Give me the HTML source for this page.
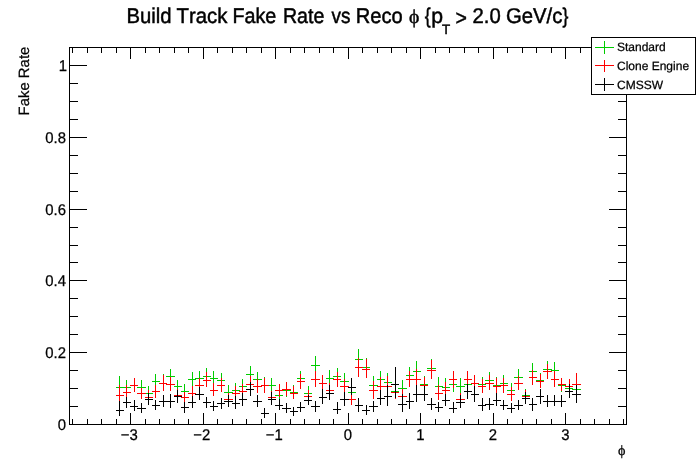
<!DOCTYPE html>
<html><head><meta charset="utf-8"><title>Build Track Fake Rate vs Reco phi</title>
<style>
html,body{margin:0;padding:0;background:#fff;}
body{width:696px;height:472px;overflow:hidden;font-family:"Liberation Sans",sans-serif;}
svg{display:block;font-family:"Liberation Sans",sans-serif;font-kerning:none;text-rendering:geometricPrecision;}
.ce{shape-rendering:crispEdges;}
.tx{filter:grayscale(1);}
</style></head><body>
<svg width="696" height="472" viewBox="0 0 696 472">
<rect width="696" height="472" fill="#fff"/>
<g class="ce" fill="none">
<rect x="69.5" y="47.5" width="557.0" height="377.0" fill="none" stroke="#000"/>
<path d="M72.5 424.5v-6M72.5 47.5v5M87.5 424.5v-6M87.5 47.5v5M101.5 424.5v-6M101.5 47.5v5M116.5 424.5v-6M116.5 47.5v5M130.5 424.5v-12M130.5 47.5v11M145.5 424.5v-6M145.5 47.5v5M159.5 424.5v-6M159.5 47.5v5M174.5 424.5v-6M174.5 47.5v5M188.5 424.5v-6M188.5 47.5v5M203.5 424.5v-12M203.5 47.5v11M217.5 424.5v-6M217.5 47.5v5M232.5 424.5v-6M232.5 47.5v5M246.5 424.5v-6M246.5 47.5v5M261.5 424.5v-6M261.5 47.5v5M275.5 424.5v-12M275.5 47.5v11M290.5 424.5v-6M290.5 47.5v5M304.5 424.5v-6M304.5 47.5v5M319.5 424.5v-6M319.5 47.5v5M333.5 424.5v-6M333.5 47.5v5M348.5 424.5v-12M348.5 47.5v11M362.5 424.5v-6M362.5 47.5v5M377.5 424.5v-6M377.5 47.5v5M391.5 424.5v-6M391.5 47.5v5M406.5 424.5v-6M406.5 47.5v5M420.5 424.5v-12M420.5 47.5v11M435.5 424.5v-6M435.5 47.5v5M449.5 424.5v-6M449.5 47.5v5M464.5 424.5v-6M464.5 47.5v5M478.5 424.5v-6M478.5 47.5v5M493.5 424.5v-12M493.5 47.5v11M507.5 424.5v-6M507.5 47.5v5M522.5 424.5v-6M522.5 47.5v5M536.5 424.5v-6M536.5 47.5v5M551.5 424.5v-6M551.5 47.5v5M565.5 424.5v-12M565.5 47.5v11M580.5 424.5v-6M580.5 47.5v5M594.5 424.5v-6M594.5 47.5v5M609.5 424.5v-6M609.5 47.5v5M623.5 424.5v-6M623.5 47.5v5M69.5 424.5h17M626.5 424.5h-18M69.5 406.5h8M626.5 406.5h-9M69.5 388.5h8M626.5 388.5h-9M69.5 370.5h8M626.5 370.5h-9M69.5 352.5h17M626.5 352.5h-18M69.5 334.5h8M626.5 334.5h-9M69.5 316.5h8M626.5 316.5h-9M69.5 298.5h8M626.5 298.5h-9M69.5 280.5h17M626.5 280.5h-18M69.5 262.5h8M626.5 262.5h-9M69.5 245.5h8M626.5 245.5h-9M69.5 227.5h8M626.5 227.5h-9M69.5 209.5h17M626.5 209.5h-18M69.5 191.5h8M626.5 191.5h-9M69.5 173.5h8M626.5 173.5h-9M69.5 155.5h8M626.5 155.5h-9M69.5 137.5h17M626.5 137.5h-18M69.5 119.5h8M626.5 119.5h-9M69.5 101.5h8M626.5 101.5h-9M69.5 83.5h8M626.5 83.5h-9M69.5 65.5h17M626.5 65.5h-18" stroke="#000" fill="none"/>
</g>
<g class="ce" fill="none" stroke-width="1">
<g stroke="#00cc00">
<path d="M119.5 376V396M116 387.5H124"/>
<path d="M126.5 380V394M123 387.5H131"/>
<path d="M134.5 378V392M130 385.5H138"/>
<path d="M141.5 380V393M137 387.5H146"/>
<path d="M148.5 386V399M145 393.5H153"/>
<path d="M155.5 374V387M152 381.5H160"/>
<path d="M163.5 374V390M159 383.5H167"/>
<path d="M170.5 369V383M166 376.5H175"/>
<path d="M177.5 380V392M174 386.5H182"/>
<path d="M184.5 384V397M181 391.5H189"/>
<path d="M192.5 372V386M188 379.5H196"/>
<path d="M199.5 371V385M195 378.5H204"/>
<path d="M206.5 368V383M203 376.5H211"/>
<path d="M213.5 371V385M210 378.5H218"/>
<path d="M221.5 373V387M217 380.5H225"/>
<path d="M228.5 385V398M224 392.5H233"/>
<path d="M235.5 383V396M232 390.5H240"/>
<path d="M242.5 379V392M239 386.5H247"/>
<path d="M250.5 366V381M246 374.5H254"/>
<path d="M257.5 372V385M253 379.5H262"/>
<path d="M264.5 377V392M261 385.5H269"/>
<path d="M271.5 378V391M268 385.5H276"/>
<path d="M279.5 388V399M275 395.5H283"/>
<path d="M286.5 383V397M282 390.5H291"/>
<path d="M293.5 385V399M290 392.5H298"/>
<path d="M300.5 371V385M297 378.5H305"/>
<path d="M308.5 386V399M304 393.5H312"/>
<path d="M315.5 356V373M311 365.5H320"/>
<path d="M322.5 375V390M319 383.5H327"/>
<path d="M329.5 370V385M326 378.5H334"/>
<path d="M337.5 368V383M333 376.5H341"/>
<path d="M344.5 373V388M340 381.5H349"/>
<path d="M351.5 386V398M348 392.5H356"/>
<path d="M358.5 349V368M355 359.5H363"/>
<path d="M366.5 358V376M362 367.5H370"/>
<path d="M373.5 376V393M369 385.5H378"/>
<path d="M380.5 371V387M377 379.5H385"/>
<path d="M387.5 373V390M384 382.5H392"/>
<path d="M395.5 384V397M391 391.5H399"/>
<path d="M402.5 380V395M398 388.5H407"/>
<path d="M409.5 367V383M406 375.5H414"/>
<path d="M416.5 361V380M413 371.5H421"/>
<path d="M424.5 376V391M420 384.5H428"/>
<path d="M431.5 359V377M427 368.5H436"/>
<path d="M438.5 377V394M435 386.5H443"/>
<path d="M445.5 378V394M442 387.5H450"/>
<path d="M453.5 377V392M449 384.5H457"/>
<path d="M460.5 378V393M456 386.5H465"/>
<path d="M467.5 378V390M464 384.5H472"/>
<path d="M474.5 375V390M471 383.5H479"/>
<path d="M482.5 377V391M478 384.5H486"/>
<path d="M489.5 372V387M485 380.5H494"/>
<path d="M496.5 377V392M493 385.5H501"/>
<path d="M503.5 375V390M500 383.5H508"/>
<path d="M511.5 383V396M507 390.5H515"/>
<path d="M518.5 369V385M514 377.5H523"/>
<path d="M525.5 389V401M522 395.5H530"/>
<path d="M532.5 363V379M529 371.5H537"/>
<path d="M540.5 373V387M536 380.5H544"/>
<path d="M547.5 361V377M543 369.5H552"/>
<path d="M554.5 362V378M551 370.5H559"/>
<path d="M561.5 378V392M558 385.5H566"/>
<path d="M569.5 381V394M565 388.5H573"/>
<path d="M576.5 380V396M572 389.5H581"/>
</g>
<g stroke="#ff0000">
<path d="M119.5 385V403M116 395.5H124"/>
<path d="M126.5 385V398M123 392.5H131"/>
<path d="M134.5 378V392M130 385.5H138"/>
<path d="M141.5 388V399M137 393.5H146"/>
<path d="M148.5 390V403M145 397.5H153"/>
<path d="M155.5 385V398M152 391.5H160"/>
<path d="M163.5 375V391M159 383.5H167"/>
<path d="M170.5 377V391M166 384.5H175"/>
<path d="M177.5 389V400M174 395.5H182"/>
<path d="M184.5 392V402M181 397.5H189"/>
<path d="M192.5 386V399M188 393.5H196"/>
<path d="M199.5 378V391M195 385.5H204"/>
<path d="M206.5 372V387M203 380.5H211"/>
<path d="M213.5 383V396M210 390.5H218"/>
<path d="M221.5 378V392M217 385.5H225"/>
<path d="M228.5 393V404M224 399.5H233"/>
<path d="M235.5 386V399M232 393.5H240"/>
<path d="M242.5 384V397M239 391.5H247"/>
<path d="M250.5 376V390M246 384.5H254"/>
<path d="M257.5 379V393M253 386.5H262"/>
<path d="M264.5 378V393M261 385.5H269"/>
<path d="M271.5 391V402M268 397.5H276"/>
<path d="M279.5 384V397M275 390.5H283"/>
<path d="M286.5 382V396M282 389.5H291"/>
<path d="M293.5 386V399M290 393.5H298"/>
<path d="M300.5 374V389M297 381.5H305"/>
<path d="M308.5 390V402M304 396.5H312"/>
<path d="M315.5 371V387M311 379.5H320"/>
<path d="M322.5 375V390M319 383.5H327"/>
<path d="M329.5 383V396M326 390.5H334"/>
<path d="M337.5 372V387M333 379.5H341"/>
<path d="M344.5 379V393M340 386.5H349"/>
<path d="M351.5 393V405M348 399.5H356"/>
<path d="M358.5 358V377M355 367.5H363"/>
<path d="M366.5 359V378M362 369.5H370"/>
<path d="M373.5 381V399M369 390.5H378"/>
<path d="M380.5 377V394M377 386.5H385"/>
<path d="M387.5 376V393M384 386.5H392"/>
<path d="M395.5 385V399M391 392.5H399"/>
<path d="M402.5 389V402M398 396.5H407"/>
<path d="M409.5 371V387M406 379.5H414"/>
<path d="M416.5 369V387M413 379.5H421"/>
<path d="M424.5 377V392M420 385.5H428"/>
<path d="M431.5 360V379M427 370.5H436"/>
<path d="M438.5 385V400M435 393.5H443"/>
<path d="M445.5 382V396M442 390.5H450"/>
<path d="M453.5 371V388M449 379.5H457"/>
<path d="M460.5 393V404M456 399.5H465"/>
<path d="M467.5 371V386M464 379.5H472"/>
<path d="M474.5 375V390M471 383.5H479"/>
<path d="M482.5 379V393M478 386.5H486"/>
<path d="M489.5 375V390M485 383.5H494"/>
<path d="M496.5 378V394M493 386.5H501"/>
<path d="M503.5 378V393M500 385.5H508"/>
<path d="M511.5 387V401M507 394.5H515"/>
<path d="M518.5 376V390M514 383.5H523"/>
<path d="M525.5 390V402M522 396.5H530"/>
<path d="M532.5 370V385M529 377.5H537"/>
<path d="M540.5 374V388M536 381.5H544"/>
<path d="M547.5 364V379M543 371.5H552"/>
<path d="M554.5 371V387M551 379.5H559"/>
<path d="M561.5 378V391M558 384.5H566"/>
<path d="M569.5 379V392M565 386.5H573"/>
<path d="M576.5 373V393M572 384.5H581"/>
</g>
<g stroke="#000000">
<path d="M119.5 401V416M116 410.5H124"/>
<path d="M126.5 397V408M123 402.5H131"/>
<path d="M134.5 400V411M130 406.5H138"/>
<path d="M141.5 403V413M137 408.5H146"/>
<path d="M148.5 393V405M145 399.5H153"/>
<path d="M155.5 400V410M152 405.5H160"/>
<path d="M163.5 395V407M159 401.5H167"/>
<path d="M170.5 394V408M166 401.5H175"/>
<path d="M177.5 390V403M174 396.5H182"/>
<path d="M184.5 402V413M181 407.5H189"/>
<path d="M192.5 396V408M188 402.5H196"/>
<path d="M199.5 387V400M195 394.5H204"/>
<path d="M206.5 397V408M203 402.5H211"/>
<path d="M213.5 401V411M210 406.5H218"/>
<path d="M221.5 398V409M217 403.5H225"/>
<path d="M228.5 395V407M224 401.5H233"/>
<path d="M235.5 396V409M232 403.5H240"/>
<path d="M242.5 393V406M239 399.5H247"/>
<path d="M250.5 382V396M246 389.5H254"/>
<path d="M257.5 395V407M253 401.5H262"/>
<path d="M264.5 408V418M261 413.5H269"/>
<path d="M271.5 392V405M268 399.5H276"/>
<path d="M279.5 399V410M275 405.5H283"/>
<path d="M286.5 403V413M282 408.5H291"/>
<path d="M293.5 407V416M290 411.5H298"/>
<path d="M300.5 402V412M297 407.5H305"/>
<path d="M308.5 395V405M304 400.5H312"/>
<path d="M315.5 401V412M311 406.5H320"/>
<path d="M322.5 389V404M319 397.5H327"/>
<path d="M329.5 385V400M326 393.5H334"/>
<path d="M337.5 402V414M333 409.5H341"/>
<path d="M344.5 392V406M340 399.5H349"/>
<path d="M351.5 378V395M348 387.5H356"/>
<path d="M358.5 398V412M355 405.5H363"/>
<path d="M366.5 405V415M362 410.5H370"/>
<path d="M373.5 401V412M369 406.5H378"/>
<path d="M380.5 390V405M377 398.5H385"/>
<path d="M387.5 385V406M384 396.5H392"/>
<path d="M395.5 367V398M391 384.5H399"/>
<path d="M402.5 394V412M398 404.5H407"/>
<path d="M409.5 393V409M406 401.5H414"/>
<path d="M416.5 385V402M413 394.5H421"/>
<path d="M424.5 386V401M420 394.5H428"/>
<path d="M431.5 398V410M427 404.5H436"/>
<path d="M438.5 402V412M435 407.5H443"/>
<path d="M445.5 394V406M442 400.5H450"/>
<path d="M453.5 402V413M449 408.5H457"/>
<path d="M460.5 395V408M456 402.5H465"/>
<path d="M467.5 384V399M464 391.5H472"/>
<path d="M474.5 386V402M471 394.5H479"/>
<path d="M482.5 398V411M478 405.5H486"/>
<path d="M489.5 398V410M485 404.5H494"/>
<path d="M496.5 393V406M493 400.5H501"/>
<path d="M503.5 400V410M500 405.5H508"/>
<path d="M511.5 403V413M507 408.5H515"/>
<path d="M518.5 400V410M514 405.5H523"/>
<path d="M525.5 392V404M522 398.5H530"/>
<path d="M532.5 398V411M529 404.5H537"/>
<path d="M540.5 389V404M536 396.5H544"/>
<path d="M547.5 395V407M543 401.5H552"/>
<path d="M554.5 395V406M551 401.5H559"/>
<path d="M561.5 395V407M558 401.5H566"/>
<path d="M569.5 384V398M565 391.5H573"/>
<path d="M576.5 385V403M572 394.5H581"/>
</g>
</g>
<!-- legend -->
<g class="ce"><rect x="591.5" y="37.5" width="104" height="57" fill="#fff" stroke="#000" stroke-width="1"/>
<path d="M595 47.5h19M604.5 41v13" stroke="#00cc00" fill="none"/>
<path d="M595 65.5h19M604.5 60v12" stroke="#ff0000" fill="none"/>
<path d="M595 84.5h19M604.5 78v13" stroke="#000" fill="none"/>
</g>
<g class="tx" stroke="#000" stroke-width="0.25">
<g font-size="14.9px" fill="#000">
<text transform="translate(129.3,440.0) scale(1,1.04)" text-anchor="middle">−3</text>
<text transform="translate(201.8,440.0) scale(1,1.04)" text-anchor="middle">−2</text>
<text transform="translate(274.3,440.0) scale(1,1.04)" text-anchor="middle">−1</text>
<text transform="translate(348.0,440.0) scale(1,1.04)" text-anchor="middle">0</text>
<text transform="translate(420.5,440.0) scale(1,1.04)" text-anchor="middle">1</text>
<text transform="translate(493.0,440.0) scale(1,1.04)" text-anchor="middle">2</text>
<text transform="translate(565.5,440.0) scale(1,1.04)" text-anchor="middle">3</text>
<text transform="translate(66,429.7) scale(1,1.04)" text-anchor="end">0</text>
<text transform="translate(66,357.7) scale(1,1.04)" text-anchor="end">0.2</text>
<text transform="translate(66,285.7) scale(1,1.04)" text-anchor="end">0.4</text>
<text transform="translate(66,214.7) scale(1,1.04)" text-anchor="end">0.6</text>
<text transform="translate(66,142.7) scale(1,1.04)" text-anchor="end">0.8</text>
<text transform="translate(67,70.7) scale(1,1.04)" text-anchor="end">1</text>
</g>
<g font-size="20.3px" fill="#000" stroke-width="0.45"><text transform="translate(126.50,23.1) scale(1,1.05)" textLength="45.10" lengthAdjust="spacingAndGlyphs">Build</text><text transform="translate(176.50,23.1) scale(1,1.05)" textLength="50.80" lengthAdjust="spacingAndGlyphs">Track</text><text transform="translate(232.50,23.1) scale(1,1.05)" textLength="43.80" lengthAdjust="spacingAndGlyphs">Fake</text><text transform="translate(282.90,23.1) scale(1,1.05)" textLength="41.37" lengthAdjust="spacingAndGlyphs">Rate</text><text transform="translate(331.46,23.1) scale(1,1.05)" textLength="18.89" lengthAdjust="spacingAndGlyphs">vs</text><text transform="translate(355.70,23.1) scale(1,1.05)" textLength="47.00" lengthAdjust="spacingAndGlyphs">Reco</text><text transform="translate(424.70,23.1) scale(1,1.05)" textLength="5.90" lengthAdjust="spacingAndGlyphs">{</text><text transform="translate(431.20,23.1) scale(1,1.05)" textLength="11.80" lengthAdjust="spacingAndGlyphs">p</text><text transform="translate(455.47,25.0) scale(1,1.05)" textLength="11.41" lengthAdjust="spacingAndGlyphs">&gt;</text><text transform="translate(472.49,23.1) scale(1,1.05)" textLength="28.21" lengthAdjust="spacingAndGlyphs">2.0</text><text transform="translate(505.94,23.1) scale(1,1.05)" textLength="56.40" lengthAdjust="spacingAndGlyphs">GeV/c</text><text transform="translate(562.60,23.1) scale(1,1.05)" textLength="5.90" lengthAdjust="spacingAndGlyphs">}</text><text x="409.0" y="22.6" font-family="Liberation Serif" font-size="19.6px">ϕ</text><text x="441.9" y="34.2" font-size="13.4px">T</text></g>
<text transform="translate(28.5,115.4) rotate(-90)" font-size="14.9px" fill="#000">Fake Rate</text>
<text x="621.8" y="455.0" font-size="14.2px" text-anchor="middle" font-family="Liberation Serif" fill="#000">ϕ</text>
<g font-size="12px" fill="#000">
<text x="617" y="51.3">Standard</text>
<text x="617" y="70.2">Clone Engine</text>
<text x="617" y="89.2">CMSSW</text>
</g>
</g>
</svg>
</body></html>
